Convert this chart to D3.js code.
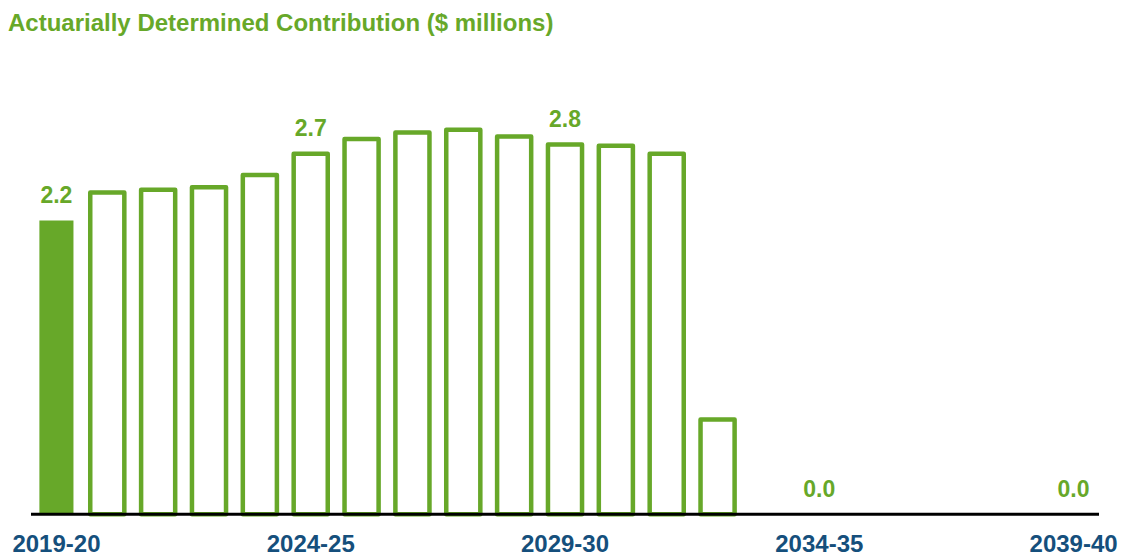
<!DOCTYPE html>
<html>
<head>
<meta charset="utf-8">
<script src="https://cdn.jsdelivr.net/npm/d3@7"></script>
<style>
  html, body { margin: 0; padding: 0; background: #ffffff; }
  svg { display: block; font-family: "Liberation Sans", Arial, Helvetica, sans-serif; }
</style>
</head>
<body>
<svg id="chart" width="1125" height="556"></svg>
<script>
// Fiscal years shown on the x axis
const years = [
  "2019-20", "2020-21", "2021-22", "2022-23", "2023-24", "2024-25", "2025-26",
  "2026-27", "2027-28", "2028-29", "2029-30", "2030-31", "2031-32", "2032-33",
  "2033-34", "2034-35", "2035-36", "2036-37", "2037-38", "2038-39", "2039-40"
];
// Actuarially determined contribution, $ millions
const contribution = [
  2.2, 2.41, 2.43, 2.45, 2.54, 2.7, 2.81, 2.86, 2.88, 2.83, 2.77,
  2.76, 2.7, 0.71, 0, 0, 0, 0, 0, 0, 0
];
// First year is actual, the rest are projections
const actualYears = ["2019-20"];
// Years whose tick and value are labelled
const labelledYears = ["2019-20", "2024-25", "2029-30", "2034-35", "2039-40"];

const green = "#67a829";
const navy = "#154f7c";

const svg = d3.select("#chart");

const x = d3.scaleBand()
  .domain(years)
  .range([31, 1099])
  .paddingInner(0.33)
  .paddingOuter(0.165);

const y = d3.scaleLinear()
  .domain([0, 3])
  .range([514.2, 113.7]);

// Title
svg.append("text")
  .attr("x", 8)
  .attr("y", 31)
  .attr("fill", green)
  .attr("font-size", 24)
  .attr("font-weight", "bold")
  .text("Actuarially Determined Contribution ($ millions)");

// Bars: solid for actual, outlined for projected
const data = years.map((yr, i) => ({ year: yr, value: contribution[i] }));

svg.append("g")
  .selectAll("rect")
  .data(data.filter(d => d.value > 0))
  .join("rect")
  .attr("x", d => x(d.year))
  .attr("width", x.bandwidth())
  .attr("y", d => y(d.value))
  .attr("height", d => y(0) - y(d.value))
  .attr("fill", d => actualYears.includes(d.year) ? green : "none")
  .attr("stroke", d => actualYears.includes(d.year) ? "none" : green)
  .attr("stroke-width", 4.5)
  .attr("stroke-linejoin", "round");

// Value labels
svg.append("g")
  .selectAll("text")
  .data(data.filter(d => labelledYears.includes(d.year)))
  .join("text")
  .attr("x", d => x(d.year) + x.bandwidth() / 2)
  .attr("y", d => y(d.value) - 17.5)
  .attr("text-anchor", "middle")
  .attr("fill", green)
  .attr("font-size", 23)
  .attr("font-weight", "bold")
  .text(d => d.value.toFixed(1));

// X axis
const xAxis = d3.axisBottom(x)
  .tickValues(labelledYears)
  .tickSize(0)
  .tickPadding(21);

const gx = svg.append("g")
  .attr("transform", `translate(0,${y(0)})`)
  .call(xAxis);

gx.select(".domain")
  .attr("stroke", "#000")
  .attr("stroke-width", 3)
  .attr("d", `M${x.range()[0]},0H${x.range()[1]}`);

gx.selectAll(".tick text")
  .attr("fill", navy)
  .attr("font-size", 24)
  .attr("font-weight", "bold")
  .attr("font-family", "'Liberation Sans', Arial, Helvetica, sans-serif");
</script>
</body>
</html>
